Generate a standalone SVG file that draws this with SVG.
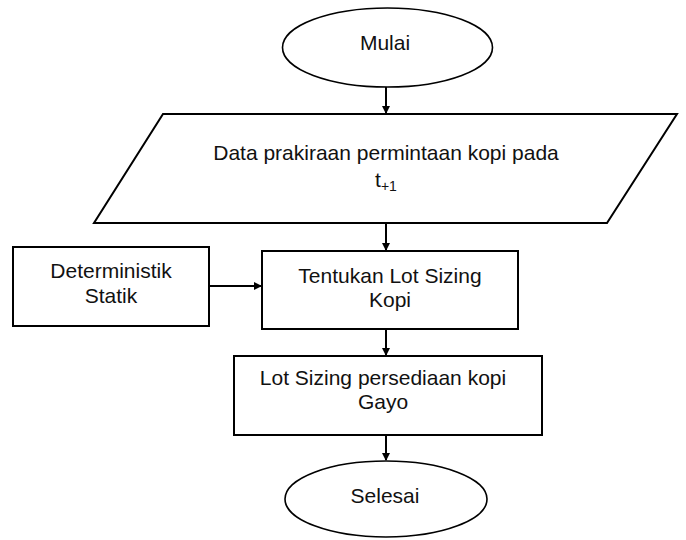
<svg xmlns="http://www.w3.org/2000/svg" width="686" height="540" viewBox="0 0 686 540">
<style>
.shape{fill:#fff;stroke:#000;stroke-width:2}
.ell{fill:#fff;stroke:#000;stroke-width:1.6}
.t{font-family:"Liberation Sans",Arial,sans-serif;font-size:21px;fill:#111;text-anchor:middle}
.c{stroke:#000;stroke-width:2;fill:none;marker-end:url(#ah)}
</style>
<defs>
<marker id="ah" markerWidth="8" markerHeight="8" refX="7" refY="4" orient="auto" markerUnits="userSpaceOnUse">
<path d="M0,0 L8,4 L0,8 Z" fill="#000"/>
</marker>
</defs>
<rect width="686" height="540" fill="#fff"/>
<g id="connectors">
<line class="c" x1="386" y1="87" x2="386" y2="113"/>
<line class="c" x1="386" y1="223" x2="386" y2="250"/>
<line class="c" x1="209" y1="286" x2="261" y2="286"/>
<line class="c" x1="386" y1="329" x2="386" y2="355"/>
<line class="c" x1="386" y1="435" x2="386" y2="460"/>
</g>
<g id="mulai">
<ellipse class="ell" cx="387.5" cy="47.5" rx="105" ry="39.5"/>
<text class="t" x="385" y="50">Mulai</text>
</g>
<g id="data">
<polygon class="shape" points="163,114 677,114 607,223 94,223"/>
<text class="t" x="386" y="160">Data prakiraan permintaan kopi pada</text>
<text class="t" x="386" y="187">t<tspan font-size="14" dy="4">+1</tspan></text>
</g>
<g id="deterministik">
<rect class="shape" x="13" y="247" width="196" height="79"/>
<text class="t" x="111" y="278">Deterministik</text>
<text class="t" x="111" y="303">Statik</text>
</g>
<g id="tentukan">
<rect class="shape" x="262" y="251" width="256" height="78"/>
<text class="t" x="390" y="283">Tentukan Lot Sizing</text>
<text class="t" x="390" y="307">Kopi</text>
</g>
<g id="lotsizing">
<rect class="shape" x="234" y="356" width="308" height="79"/>
<text class="t" x="383" y="385">Lot Sizing persediaan kopi</text>
<text class="t" x="383" y="409">Gayo</text>
</g>
<g id="selesai">
<ellipse class="ell" cx="386" cy="499" rx="101" ry="38"/>
<text class="t" x="385" y="503">Selesai</text>
</g>
</svg>
